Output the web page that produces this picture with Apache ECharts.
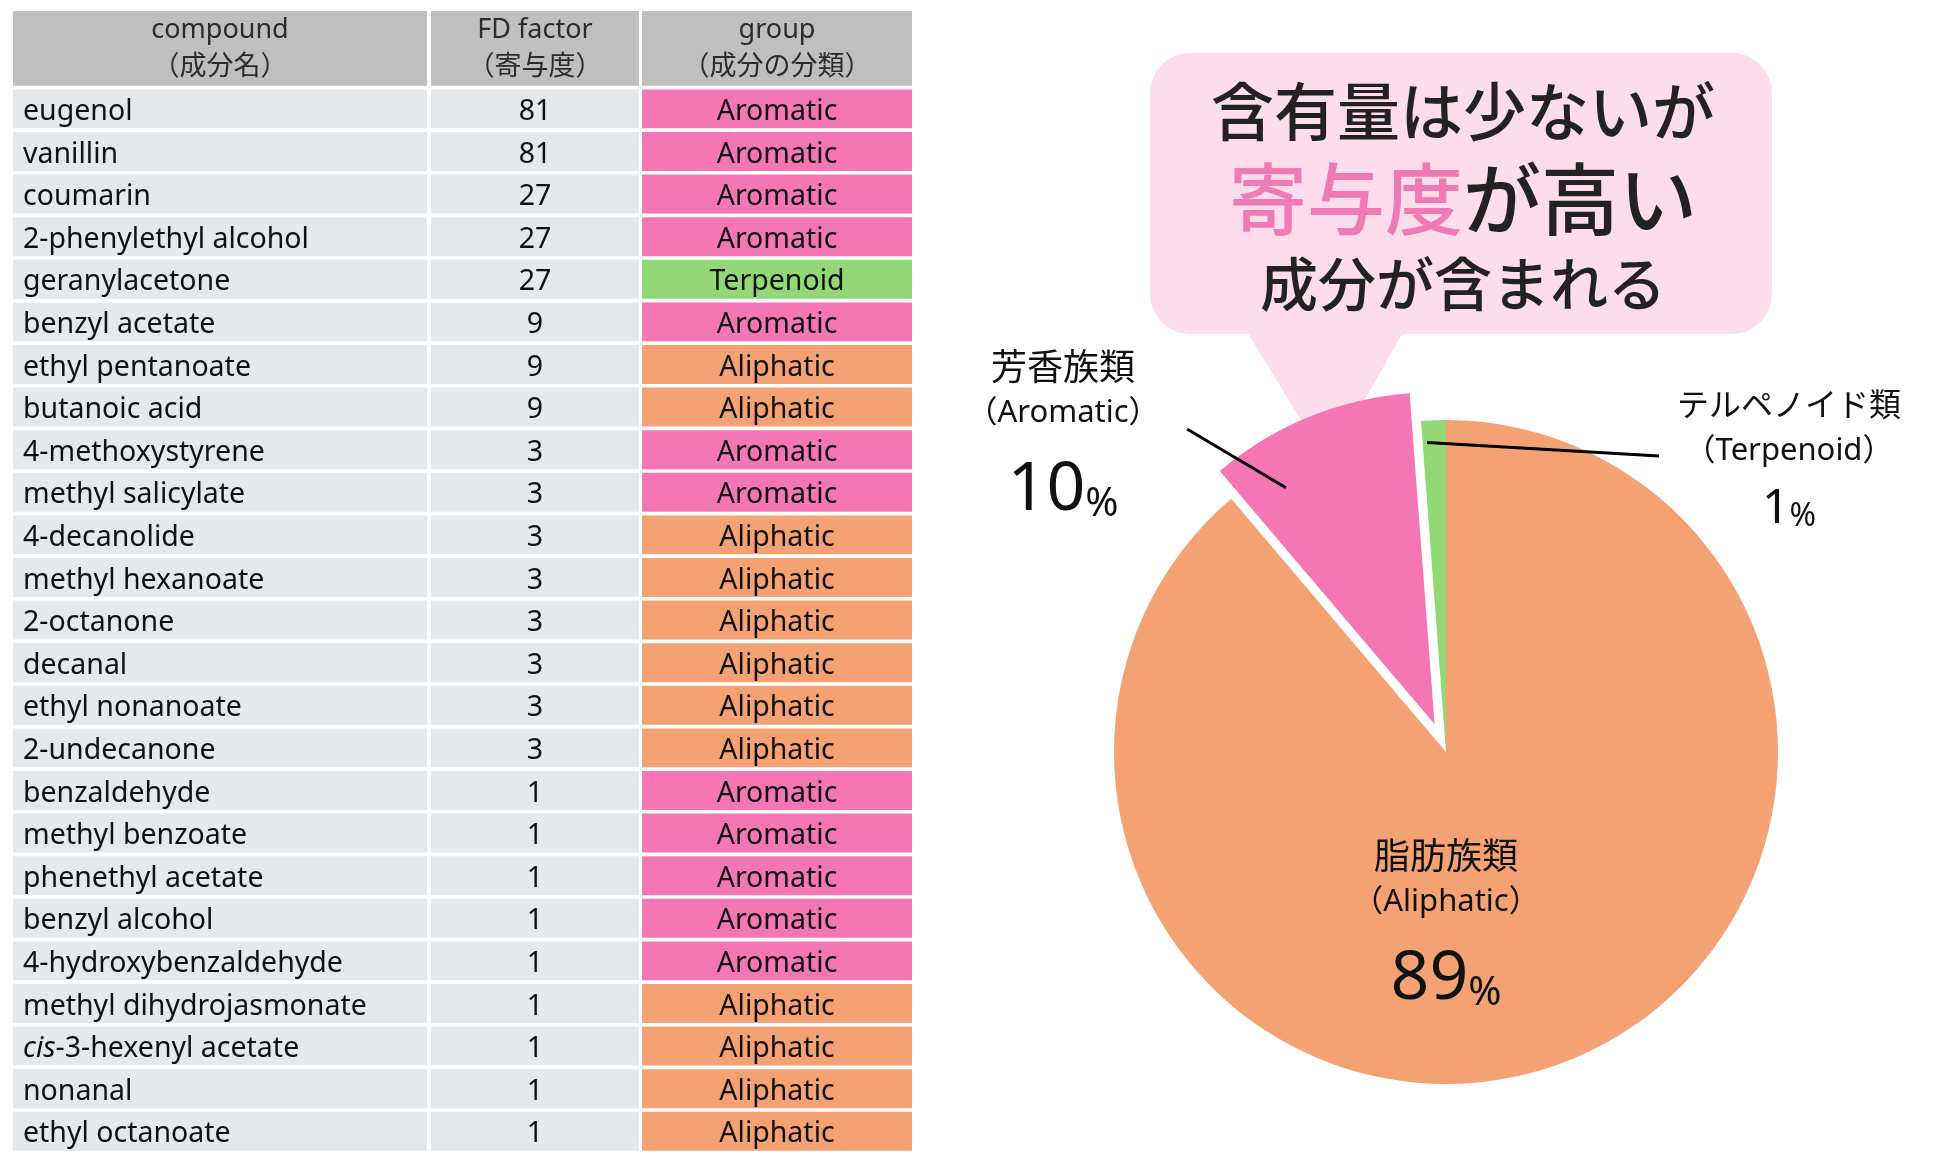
<!DOCTYPE html>
<html lang="ja">
<head>
<meta charset="utf-8">
<title>FD factor / 成分の分類</title>
<script src="https://cdn.jsdelivr.net/npm/echarts@6.0.0/dist/echarts.min.js"></script>
<style>
    html, body, #main {
        width: 100%;
        height: 100%;
        margin: 0;
        background: #fff;
    }
</style>
</head>
<body>
<div id="main"></div>
<script>
// ---- data ----
const compounds = [
    'eugenol', 'vanillin', 'coumarin', '2-phenylethyl alcohol', 'geranylacetone',
    'benzyl acetate', 'ethyl pentanoate', 'butanoic acid', '4-methoxystyrene', 'methyl salicylate',
    '4-decanolide', 'methyl hexanoate', '2-octanone', 'decanal', 'ethyl nonanoate',
    '2-undecanone', 'benzaldehyde', 'methyl benzoate', 'phenethyl acetate', 'benzyl alcohol',
    '4-hydroxybenzaldehyde', 'methyl dihydrojasmonate', 'cis-3-hexenyl acetate', 'nonanal', 'ethyl octanoate'
];
const fdFactors = [81, 81, 27, 27, 27, 9, 9, 9, 3, 3, 3, 3, 3, 3, 3, 3, 1, 1, 1, 1, 1, 1, 1, 1, 1];
const compoundGroups = [
    'Aromatic', 'Aromatic', 'Aromatic', 'Aromatic', 'Terpenoid',
    'Aromatic', 'Aliphatic', 'Aliphatic', 'Aromatic', 'Aromatic',
    'Aliphatic', 'Aliphatic', 'Aliphatic', 'Aliphatic', 'Aliphatic',
    'Aliphatic', 'Aromatic', 'Aromatic', 'Aromatic', 'Aromatic',
    'Aromatic', 'Aliphatic', 'Aliphatic', 'Aliphatic', 'Aliphatic'
];
const headerTitles = ['compound', 'FD factor', 'group'];
const headerSubtitles = ['（成分名）', '（寄与度）', '（成分の分類）'];

const pieGroups = ['Aliphatic', 'Aromatic', 'Terpenoid'];
const pieGroupsJa = ['脂肪族類', '芳香族類', 'テルペノイド類'];
const pieShares = [88.8, 10.0, 1.2];

const calloutTop = '含有量は少ないが';
const calloutMidPink = '寄与度';
const calloutMid = 'が高い';
const calloutBottom = '成分が含まれる';

// ---- layout / style ----
const FONT = "'Noto Sans', 'Noto Sans CJK JP', sans-serif";
const CJK = "'Noto Sans CJK JP', sans-serif";
const GROUP_COLORS = { Aromatic: '#f476b5', Aliphatic: '#f4a273', Terpenoid: '#92d876' };
const CELL_GRAY = '#e6e9ec';
const HEADER_GRAY = '#bfbfbf';

const COLS = [[0, 414], [418, 626], [629, 899]];
const ROW_GAP = 0.085;
const Y_MIN = -1.84;
const Y_MAX = compounds.length - ROW_GAP;

const PIE_CENTER = [1446, 752];
const PIE_RADIUS = 332;
const LABEL_POS = [[1446, 923], [1063, 434], [1789, 456]];
// leader lines: inner end in polar (deg from 12 o'clock ccw, radius) and outer end relative to label
const LEADERS = [null, { a: 31.2, r: 309, dx: 124, dy: -5 }, { a: 3.5, r: 310, dx: -130, dy: 0 }];

const BUBBLE_X = 1150;
const BUBBLE_W = 622;
const BUBBLE_CX = BUBBLE_X + BUBBLE_W / 2;

// table cells: [col, row]
const cells = [];
for (let c = 0; c < 3; c++) cells.push([c, -1]);
for (let r = 0; r < compounds.length; r++) {
    for (let c = 0; c < 3; c++) cells.push([c, r]);
}

function cellText(col, row) {
    if (row < 0) return headerTitles[col] + '\n' + headerSubtitles[col];
    if (col === 0) return compounds[row];
    if (col === 1) return String(fdFactors[row]);
    return compoundGroups[row];
}

function renderCell(params, api) {
    const col = api.value(0);
    const row = api.value(1);
    const span = COLS[col];
    const p0 = api.coord([span[0], row < 0 ? Y_MIN : row]);
    const p1 = api.coord([span[1], (row < 0 ? 0 : row + 1) - ROW_GAP]);
    let fill = CELL_GRAY;
    if (row < 0) fill = HEADER_GRAY;
    else if (col === 2) fill = GROUP_COLORS[compoundGroups[row]];

    let text = cellText(col, row);
    let rich;
    if (text.indexOf('cis-') === 0) {
        text = '{i|cis}' + text.slice(3);
        rich = { i: { fontStyle: 'italic', fontSize: 28.5, fontFamily: FONT, fill: '#111' } };
    }
    const left = col === 0 && row >= 0;
    return {
        type: 'group',
        children: [{
            type: 'rect',
            shape: { x: p0[0], y: p0[1], width: p1[0] - p0[0], height: p1[1] - p0[1] },
            style: { fill: fill }
        }, {
            type: 'text',
            style: {
                text: text,
                rich: rich,
                x: left ? p0[0] + 10 : (p0[0] + p1[0]) / 2,
                y: (p0[1] + p1[1]) / 2 + (row < 0 ? 0 : 3),
                textAlign: left ? 'left' : 'center',
                textVerticalAlign: 'middle',
                fontSize: row < 0 ? 27 : 28.5,
                lineHeight: 37,
                fontFamily: FONT,
                fill: row < 0 ? '#2b2b2b' : '#111'
            }
        }]
    };
}

function polar(a, r) {
    const t = a * Math.PI / 180;
    return [PIE_CENTER[0] - r * Math.sin(t), PIE_CENTER[1] - r * Math.cos(t)];
}

const chart = echarts.init(document.getElementById('main'));

const pieBase = {
    type: 'pie',
    center: PIE_CENTER,
    radius: PIE_RADIUS,
    startAngle: 90,
    clockwise: true,
    avoidLabelOverlap: false,
    emphasis: { disabled: true }
};

const option = {
    animation: false,
    grid: { left: 13, top: 11, width: 899, height: (Y_MAX - Y_MIN) * 42.6 },
    xAxis: { type: 'value', min: 0, max: 899, show: false },
    yAxis: { type: 'value', inverse: true, min: Y_MIN, max: Y_MAX, show: false },
    series: [{
        type: 'custom',
        silent: true,
        renderItem: renderCell,
        data: cells
    }, Object.assign({}, pieBase, {
        // the coloured slices, Aromatic pulled out
        z: 2,
        selectedMode: 'single',
        selectedOffset: 30,
        itemStyle: { borderWidth: 0 },
        label: { show: false },
        labelLine: { show: false },
        data: pieGroups.map(function (g, i) {
            return {
                name: g,
                value: pieShares[i],
                selected: g === 'Aromatic',
                itemStyle: { color: GROUP_COLORS[g] }
            };
        })
    }), Object.assign({}, pieBase, {
        // transparent twin carrying the labels and leader lines
        z: 3,
        silent: true,
        itemStyle: { color: 'rgba(0,0,0,0)', borderWidth: 0 },
        label: {
            show: true,
            position: 'outside',
            color: '#111',
            fontFamily: FONT,
            formatter: function (p) {
                const s = p.dataIndex === 2 ? 'S' : '';
                return '{ja' + s + '|' + pieGroupsJa[p.dataIndex] + '}\n' +
                    '{en|（' + pieGroups[p.dataIndex] + '）}\n' +
                    '{num' + s + '|' + Math.round(p.value) + '}{pct' + s + '|%}';
            },
            rich: {
                ja: { fontSize: 36, lineHeight: 47, fontFamily: CJK, color: '#111' },
                jaS: { fontSize: 32, lineHeight: 49, fontFamily: CJK, color: '#111' },
                en: { fontSize: 31, lineHeight: 47, fontFamily: FONT, color: '#111' },
                num: { fontSize: 68, lineHeight: 88, fontFamily: FONT, color: '#111', verticalAlign: 'bottom' },
                pct: { fontSize: 40, lineHeight: 68, fontFamily: FONT, color: '#111', verticalAlign: 'bottom' },
                numS: { fontSize: 48, lineHeight: 58, fontFamily: FONT, color: '#111', verticalAlign: 'bottom' },
                pctS: { fontSize: 32, lineHeight: 48, fontFamily: FONT, color: '#111', verticalAlign: 'bottom' }
            }
        },
        labelLine: { show: true, lineStyle: { color: '#000', width: 3 } },
        labelLayout: function (params) {
            const i = params.dataIndex;
            const pos = LABEL_POS[i];
            const out = { x: pos[0], y: pos[1], align: 'center', verticalAlign: 'middle' };
            const lead = LEADERS[i];
            if (lead) {
                out.labelLinePoints = [polar(lead.a, lead.r), [pos[0] + lead.dx, pos[1] + lead.dy]];
            }
            return out;
        },
        data: pieGroups.map(function (g, i) {
            return {
                name: g,
                value: pieShares[i],
                labelLine: { show: g !== 'Aliphatic' }
            };
        })
    })],
    graphic: [{
        type: 'group',
        z: 100,
        children: [{
            type: 'rect',
            shape: { x: BUBBLE_X, y: 53, width: BUBBLE_W, height: 281, r: 40 },
            style: { fill: '#fddcec' }
        }, {
            type: 'polygon',
            shape: { points: [[1240, 320], [1410, 320], [1328, 465]] },
            style: { fill: '#fddcec' }
        }, {
            type: 'text',
            style: {
                text: calloutTop, x: BUBBLE_CX + 2, y: 111,
                textAlign: 'center', textVerticalAlign: 'middle',
                fontSize: 63, fontWeight: 500, fontFamily: CJK, fill: '#222'
            }
        }, {
            type: 'text',
            style: {
                text: '{p|' + calloutMidPink + '}{k|' + calloutMid + '}', x: BUBBLE_CX + 2, y: 199,
                textAlign: 'center', textVerticalAlign: 'middle',
                fontSize: 78, fontFamily: CJK,
                rich: {
                    p: { fontSize: 78, fontWeight: 500, fontFamily: CJK, fill: '#f07ab4' },
                    k: { fontSize: 78, fontWeight: 500, fontFamily: CJK, fill: '#222' }
                }
            }
        }, {
            type: 'text',
            style: {
                text: calloutBottom, x: BUBBLE_CX + 2, y: 284,
                textAlign: 'center', textVerticalAlign: 'middle',
                fontSize: 58, fontWeight: 500, fontFamily: CJK, fill: '#222'
            }
        }]
    }]
};

chart.setOption(option);

window.onresize = function () {
    chart.resize();
};
</script>
</body>
</html>
